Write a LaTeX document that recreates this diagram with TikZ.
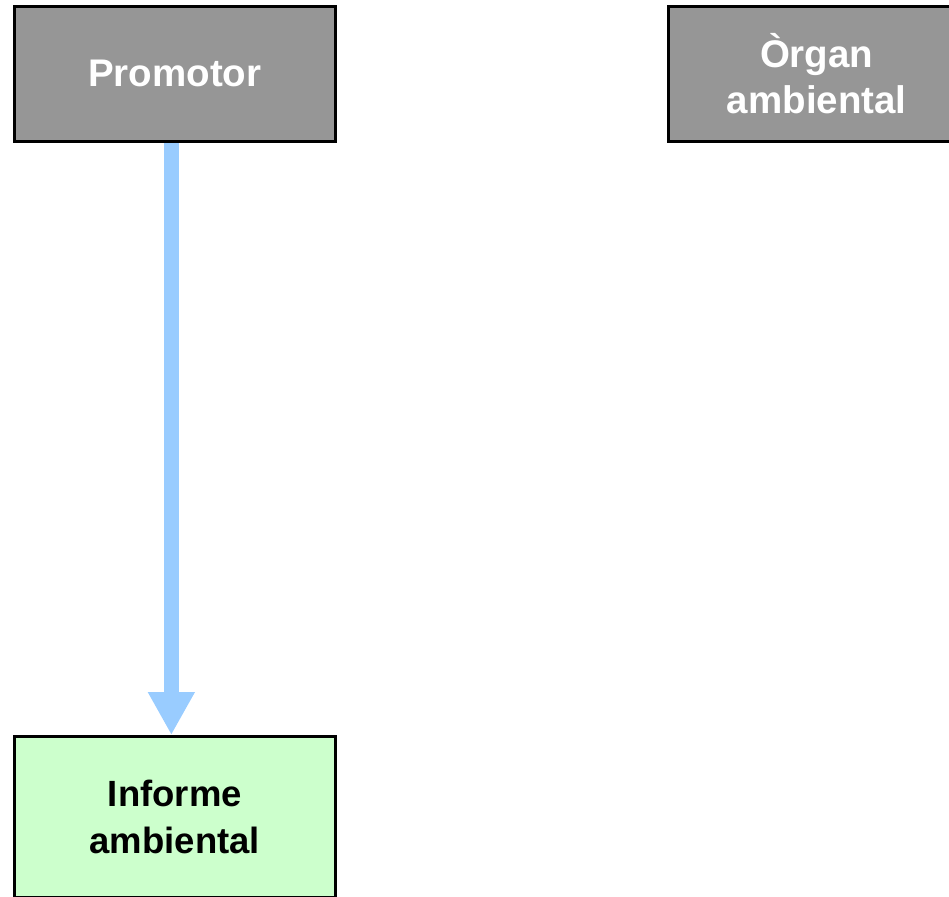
\documentclass[tikz,border=0pt]{standalone}
\usepackage{fontspec}
\setmainfont{Liberation Sans}
\usetikzlibrary{arrows.meta,backgrounds}
\definecolor{boxgray}{HTML}{969696}
\definecolor{boxgreen}{HTML}{CCFFCC}
\definecolor{arrowblue}{HTML}{99CCFF}
\tikzset{
  box/.style={draw=black, line width=3pt, inner sep=0pt, align=center,
    font=\bfseries\fontsize{38.5}{46.5}\selectfont},
  graybox/.style={box, fill=boxgray, text=white},
  greenbox/.style={box, fill=boxgreen, text=black,
    font=\bfseries\fontsize{36.5}{47}\selectfont},
  flow/.style={draw=arrowblue, line width=15pt,
    -{Triangle[width=44pt,length=43pt]}}
}
\begin{document}
\begin{tikzpicture}[x=1pt,y=-1pt]
\useasboundingbox (0,0) rectangle (949,896);
\clip (0,0) rectangle (949,896);
\node[graybox, minimum width=320.7pt, minimum height=134.7pt] (p) at (174.85,73.85) {Promotor};
\node[graybox, minimum width=297pt, minimum height=134.7pt] (o) at (816.7,73.85) {Òrgan\\ambiental};
\node[greenbox, minimum width=320.7pt, minimum height=161pt] (i) at (174.85,817) {Informe\\ambiental};
\begin{scope}[on background layer]
\draw[flow] ([xshift=-3.5pt]p.south) -- ([xshift=-3.5pt]i.north);
\end{scope}
\end{tikzpicture}
\end{document}
